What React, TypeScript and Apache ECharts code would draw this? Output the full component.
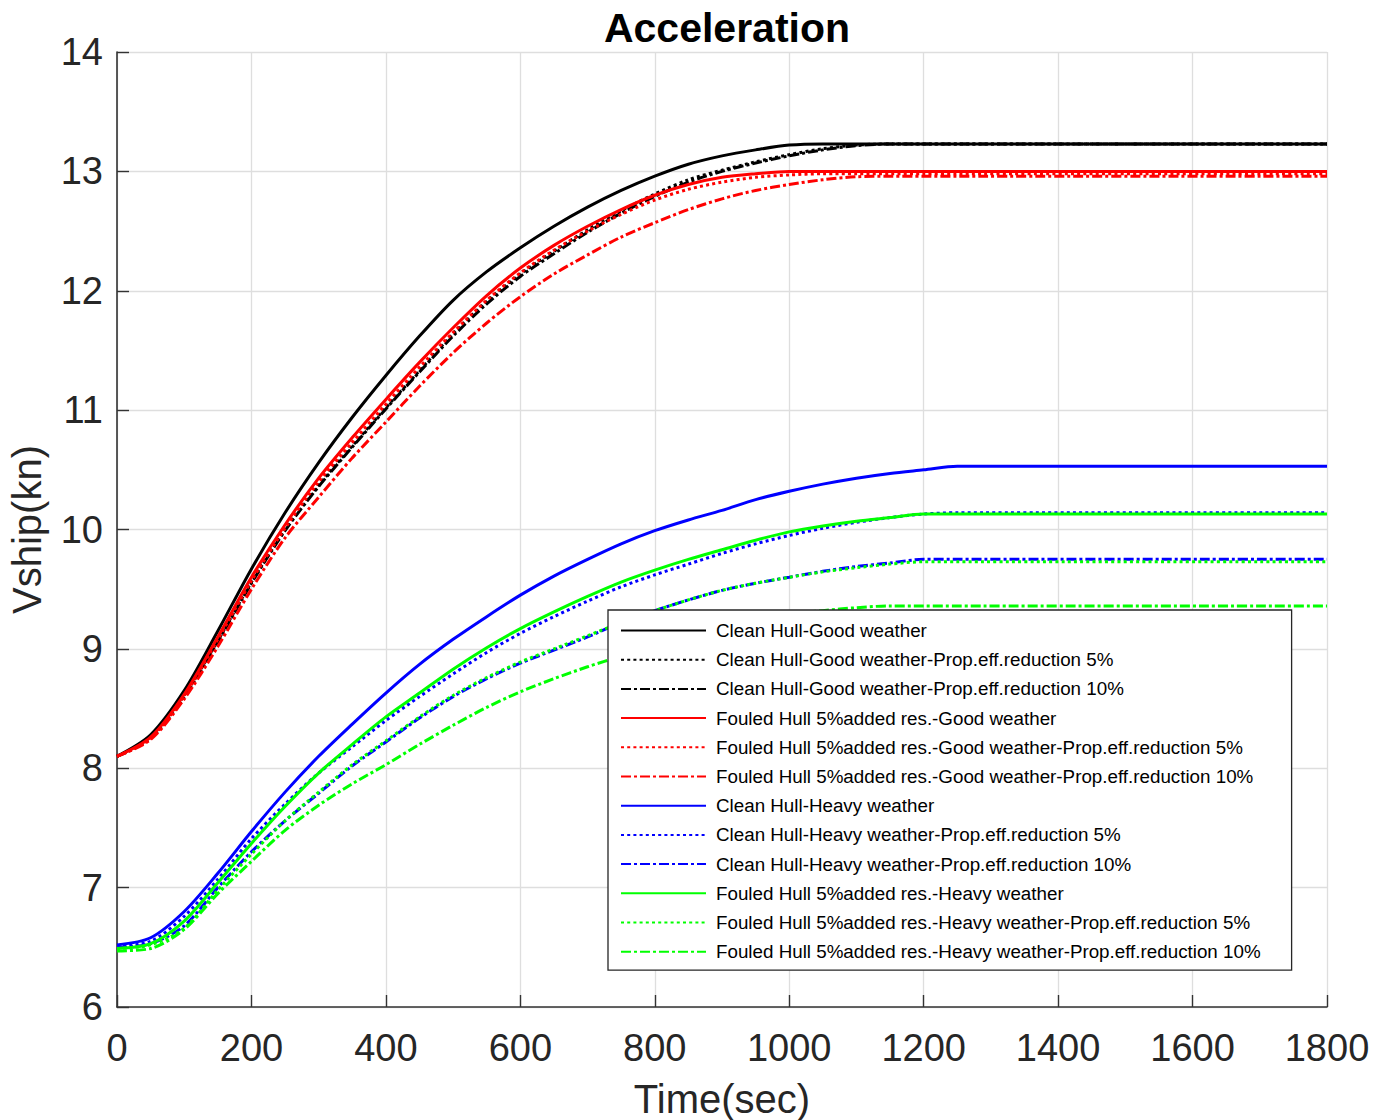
import React, { useEffect, useRef } from "react";
import * as echarts from "echarts";

const timeSec = [0, 50, 100, 150, 200, 250, 300, 350, 400, 450, 500, 550, 600, 650, 700, 750, 800, 850, 900, 950, 1000, 1050, 1100, 1150, 1200, 1250, 1800];

const cleanGood = [8.10, 8.28, 8.65, 9.15, 9.67, 10.14, 10.56, 10.94, 11.29, 11.62, 11.92, 12.16, 12.36, 12.54, 12.70, 12.84, 12.96, 13.06, 13.13, 13.18, 13.22, 13.23, 13.23, 13.23, 13.23, 13.23, 13.23];
const cleanGood5 = [8.10, 8.26, 8.61, 9.07, 9.56, 10.00, 10.37, 10.70, 11.02, 11.33, 11.64, 11.91, 12.14, 12.33, 12.51, 12.67, 12.81, 12.93, 13.01, 13.08, 13.14, 13.19, 13.22, 13.23, 13.23, 13.23, 13.23];
const cleanGood10 = [8.10, 8.25, 8.60, 9.06, 9.55, 9.99, 10.36, 10.69, 11.01, 11.32, 11.62, 11.89, 12.12, 12.31, 12.49, 12.65, 12.79, 12.91, 13.00, 13.07, 13.13, 13.18, 13.215, 13.23, 13.23, 13.23, 13.23];
const fouledGood = [8.10, 8.26, 8.62, 9.10, 9.60, 10.04, 10.43, 10.77, 11.09, 11.40, 11.69, 11.96, 12.19, 12.38, 12.54, 12.68, 12.80, 12.89, 12.95, 12.98, 13.00, 13.00, 13.00, 13.00, 13.00, 13.00, 13.00];
const fouledGood5 = [8.10, 8.25, 8.61, 9.08, 9.57, 10.01, 10.40, 10.73, 11.05, 11.36, 11.65, 11.92, 12.15, 12.34, 12.50, 12.64, 12.76, 12.85, 12.91, 12.95, 12.97, 12.98, 12.98, 12.98, 12.98, 12.98, 12.98];
const fouledGood10 = [8.10, 8.24, 8.58, 9.02, 9.50, 9.93, 10.27, 10.60, 10.90, 11.20, 11.48, 11.73, 11.95, 12.14, 12.30, 12.45, 12.57, 12.68, 12.77, 12.84, 12.89, 12.93, 12.955, 12.96, 12.96, 12.96, 12.96];
const cleanHeavy = [6.52, 6.58, 6.80, 7.12, 7.47, 7.80, 8.10, 8.37, 8.63, 8.87, 9.08, 9.27, 9.45, 9.61, 9.75, 9.88, 9.99, 10.08, 10.16, 10.25, 10.32, 10.38, 10.43, 10.47, 10.50, 10.53, 10.53];
const cleanHeavy5 = [6.51, 6.55, 6.76, 7.07, 7.41, 7.70, 7.96, 8.18, 8.40, 8.60, 8.79, 8.97, 9.13, 9.27, 9.40, 9.52, 9.62, 9.71, 9.80, 9.88, 9.95, 10.01, 10.06, 10.10, 10.13, 10.14, 10.14];
const cleanHeavy10 = [6.50, 6.53, 6.68, 7.00, 7.30, 7.56, 7.79, 8.02, 8.22, 8.42, 8.60, 8.75, 8.88, 8.99, 9.10, 9.22, 9.32, 9.41, 9.49, 9.55, 9.60, 9.65, 9.69, 9.72, 9.75, 9.75, 9.75];
const fouledHeavy = [6.49, 6.53, 6.72, 7.04, 7.37, 7.68, 7.96, 8.20, 8.43, 8.63, 8.83, 9.01, 9.17, 9.31, 9.44, 9.56, 9.66, 9.75, 9.83, 9.91, 9.98, 10.03, 10.07, 10.10, 10.13, 10.13, 10.13];
const fouledHeavy5 = [6.49, 6.52, 6.66, 6.98, 7.28, 7.56, 7.80, 8.03, 8.23, 8.43, 8.61, 8.76, 8.89, 9.00, 9.11, 9.22, 9.32, 9.41, 9.49, 9.55, 9.60, 9.645, 9.68, 9.71, 9.73, 9.73, 9.73];
const fouledHeavy10 = [6.47, 6.49, 6.65, 6.95, 7.22, 7.48, 7.69, 7.87, 8.03, 8.20, 8.36, 8.51, 8.64, 8.75, 8.85, 8.94, 9.03, 9.11, 9.18, 9.24, 9.29, 9.32, 9.345, 9.36, 9.36, 9.36, 9.36];

const seriesNames = [
  "Clean Hull-Good weather",
  "Clean Hull-Good weather-Prop.eff.reduction 5%",
  "Clean Hull-Good weather-Prop.eff.reduction 10%",
  "Fouled Hull 5%added res.-Good weather",
  "Fouled Hull 5%added res.-Good weather-Prop.eff.reduction 5%",
  "Fouled Hull 5%added res.-Good weather-Prop.eff.reduction 10%",
  "Clean Hull-Heavy weather",
  "Clean Hull-Heavy weather-Prop.eff.reduction 5%",
  "Clean Hull-Heavy weather-Prop.eff.reduction 10%",
  "Fouled Hull 5%added res.-Heavy weather",
  "Fouled Hull 5%added res.-Heavy weather-Prop.eff.reduction 5%",
  "Fouled Hull 5%added res.-Heavy weather-Prop.eff.reduction 10%",
];
const seriesValues = [cleanGood, cleanGood5, cleanGood10, fouledGood, fouledGood5, fouledGood10, cleanHeavy, cleanHeavy5, cleanHeavy10, fouledHeavy, fouledHeavy5, fouledHeavy10];
const seriesColors = ["#000000", "#000000", "#000000", "#ff0000", "#ff0000", "#ff0000", "#0000ff", "#0000ff", "#0000ff", "#00ff00", "#00ff00", "#00ff00"];
const seriesStyles = ["solid", "dotted", "dashdot", "solid", "dotted", "dashdot", "solid", "dotted", "dashdot", "solid", "dotted", "dashdot"];

const xTicks = { min: 0, max: 1800, interval: 200 };
const yTicks = { min: 6, max: 14, interval: 1 };

const FONT = "'Liberation Sans', Arial, Helvetica, sans-serif";
const AXIS = "#333333";

function dashFor(style: string): any {
  if (style === "dotted") return [3, 3.2];
  if (style === "dashdot") return [10, 3, 3, 3];
  return "solid";
}

export default function App() {
  const ref = useRef<HTMLDivElement>(null);
  useEffect(() => {
    if (!ref.current) return;
    const chart = echarts.init(ref.current, undefined, { renderer: "svg" });
    const series = seriesNames.map((name, i) => ({
      name,
      type: "line",
      symbol: "none",
      smooth: 0.3,
      data: timeSec.map((t, k) => [t, seriesValues[i][k]]),
      lineStyle: { color: seriesColors[i], width: 3, type: dashFor(seriesStyles[i]) },
      itemStyle: { color: seriesColors[i] },
    }));
    chart.setOption({
      animation: false,
      backgroundColor: "#ffffff",
      title: {
        text: "Acceleration",
        left: 722,
        top: 2,
        textAlign: "center",
        textStyle: { fontFamily: FONT, fontSize: 41, fontWeight: "bold", color: "#000" },
      },
      grid: { left: 117, right: 57, top: 52, bottom: 113, containLabel: false, outerBoundsMode: "none" },
      legend: {
        orient: "vertical",
        left: 608,
        top: 610,
        data: seriesNames,
        itemWidth: 85,
        itemHeight: 14,
        itemGap: 10.2,
        padding: [11, 31, 9, 12],
        backgroundColor: "#ffffff",
        borderColor: "#262626",
        borderWidth: 1.3,
        itemStyle: { opacity: 0 },
        textStyle: { fontFamily: FONT, fontSize: 18.8, color: "#000", padding: [0, 0, 0, 5] },
      },
      xAxis: {
        type: "value",
        min: xTicks.min,
        max: xTicks.max,
        interval: xTicks.interval,
        name: "Time(sec)",
        nameLocation: "middle",
        nameGap: 72,
        nameTextStyle: { fontFamily: FONT, fontSize: 40, color: "#262626" },
        axisLine: { show: true, onZero: false, lineStyle: { color: AXIS, width: 1.6 } },
        axisTick: { show: true, inside: true, length: 12, lineStyle: { color: AXIS, width: 1.4 } },
        axisLabel: { margin: 22, fontFamily: FONT, fontSize: 38, color: "#262626", formatter: (v: number) => String(v) },
        splitLine: { show: true, lineStyle: { color: "#dedede", width: 1.3 } },
      },
      yAxis: {
        type: "value",
        min: yTicks.min,
        max: yTicks.max,
        interval: yTicks.interval,
        name: "Vship(kn)",
        nameLocation: "middle",
        nameGap: 70,
        nameTextStyle: { fontFamily: FONT, fontSize: 40, color: "#262626" },
        axisLine: { show: true, onZero: false, lineStyle: { color: AXIS, width: 1.6 } },
        axisTick: { show: true, inside: true, length: 12, lineStyle: { color: AXIS, width: 1.4 } },
        axisLabel: { margin: 14, fontFamily: FONT, fontSize: 38, color: "#262626", formatter: (v: number) => String(v) },
        splitLine: { show: true, lineStyle: { color: "#dedede", width: 1.3 } },
      },
      series,
    });
    return () => chart.dispose();
  }, []);
  return (
    <div
      ref={ref}
      style={{ position: "fixed", left: 0, top: 0, width: 1384, height: 1120, background: "#fff" }}
    />
  );
}
